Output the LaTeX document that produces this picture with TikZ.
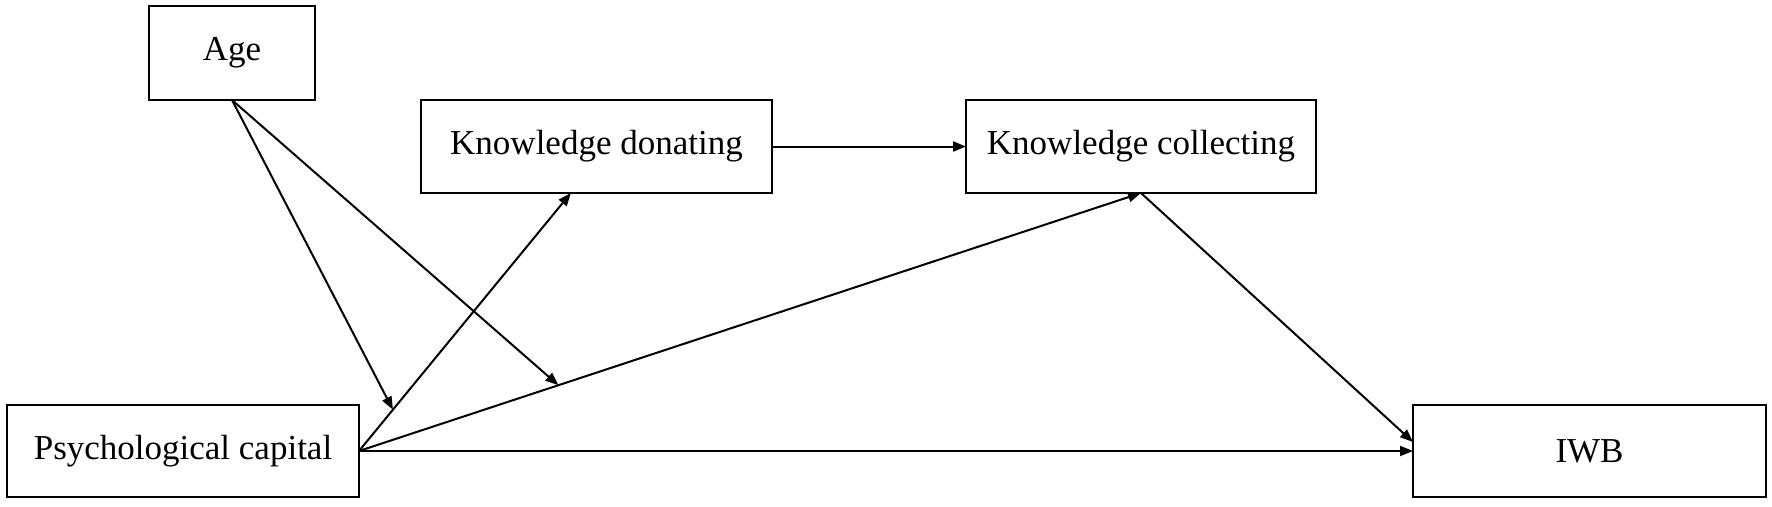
\documentclass[tikz,border=0pt]{standalone}
\usepackage{fontspec}
\setmainfont{Liberation Serif}
\usetikzlibrary{arrows.meta,calc}
\begin{document}
\begin{tikzpicture}[x=1pt,y=-1pt,
  varbox/.style={draw=black,line width=2.4pt,rectangle,inner sep=0pt,outer sep=0pt,
    font=\fontsize{35}{42}\selectfont},
  arr/.style={line width=2pt,-{Triangle[length=13pt,width=10pt]}}]
\useasboundingbox (0,0) rectangle (1772,506);
\node[varbox,minimum width=166pt,minimum height=94pt] (Age) at (232,53) {Age};
\node[varbox,minimum width=351pt,minimum height=93pt] (KD) at (596.5,146.5) {Knowledge donating};
\node[varbox,minimum width=350pt,minimum height=93pt] (KC) at (1141,146.5) {Knowledge collecting};
\node[varbox,minimum width=352pt,minimum height=92pt] (P) at (183,451) {Psychological capital};
\node[varbox,minimum width=353pt,minimum height=92pt] (IWB) at (1589.5,451) {IWB};
\coordinate (KDin) at ($(KD.south west)!0.427!(KD.south east)$);
\coordinate (IWBin) at ([yshift=9pt]IWB.west);
\path (P.east) -- (KDin) coordinate[pos=0.16] (m1);
\path (P.east) -- (KC.south) coordinate[pos=0.255] (m2);
\draw[arr] (KD.east) -- (KC.west);
\draw[arr] (P.east) -- (KDin);
\draw[arr] (P.east) -- (KC.south);
\draw[arr] (P.east) -- (IWB.west);
\draw[arr] (KC.south) -- (IWBin);
\draw[arr] (Age.south) -- (m1);
\draw[arr] (Age.south) -- (m2);
\end{tikzpicture}
\end{document}
